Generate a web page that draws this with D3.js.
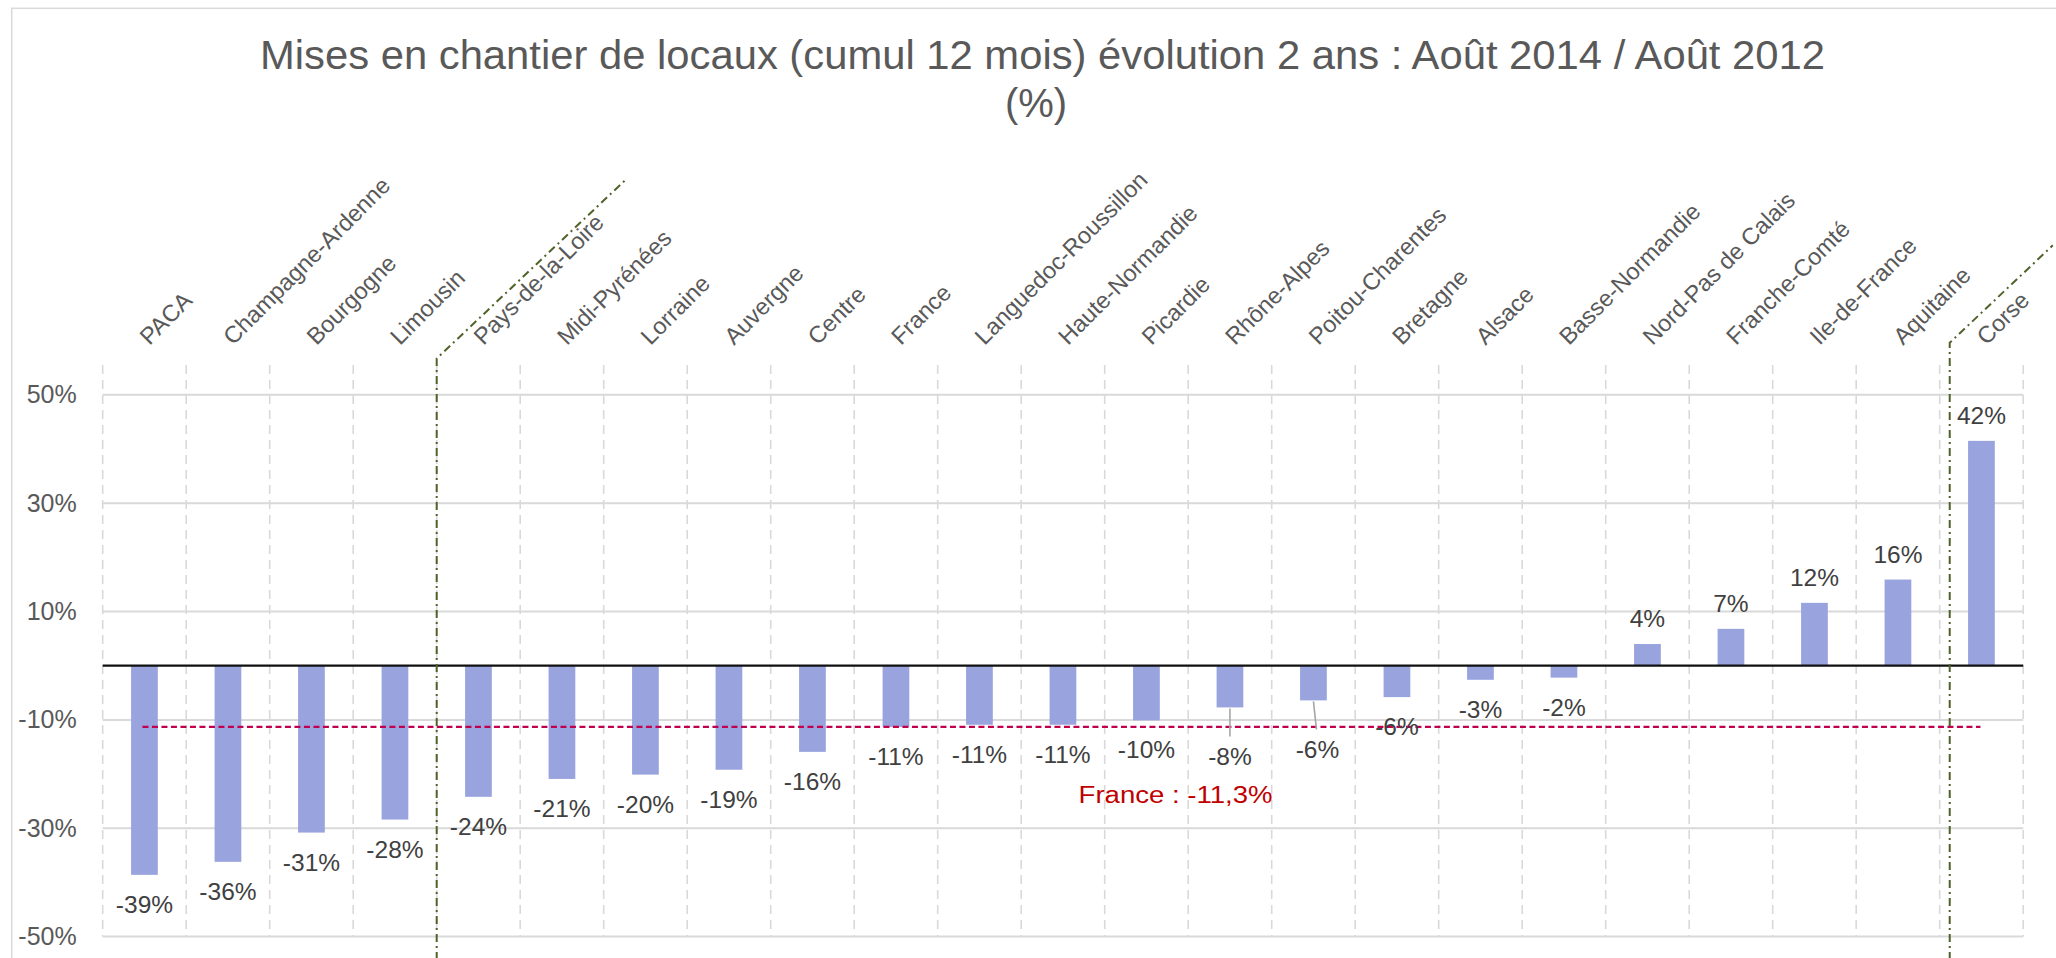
<!DOCTYPE html>
<html>
<head>
<meta charset="utf-8">
<script src="https://cdn.jsdelivr.net/npm/d3@7"></script>
<style>
  html, body { margin: 0; padding: 0; background: #ffffff; }
  svg { display: block; }
  text { font-family: "Liberation Sans", Arial, sans-serif; }
</style>
</head>
<body>
<svg id="chart" width="2056" height="958"></svg>
<script>
// ---------- data ----------
const categories = ["PACA","Champagne-Ardenne","Bourgogne","Limousin","Pays-de-la-Loire","Midi-Pyrénées","Lorraine","Auvergne","Centre","France","Languedoc-Roussillon","Haute-Normandie","Picardie","Rhône-Alpes","Poitou-Charentes","Bretagne","Alsace","Basse-Normandie","Nord-Pas de Calais","Franche-Comté","Ile-de-France","Aquitaine","Corse"];
const values = [-38.6,-36.2,-30.8,-28.4,-24.2,-20.9,-20.1,-19.2,-15.9,-11.3,-10.9,-10.9,-10.1,-7.7,-6.4,-5.8,-2.6,-2.2,4.0,6.8,11.6,15.9,41.5];
const yTicks = [-50,-30,-10,10,30,50];
const franceAverage = -11.3;
const franceLabel = "France : -11,3%";
const leaderLabelCategories = ["Rhône-Alpes","Poitou-Charentes"];
const titleLines = ["Mises en chantier de locaux (cumul 12 mois) évolution 2 ans : Août 2014 / Août 2012", "(%)"];
// separators (dash-dot green): boundary category, corner value, end value
const separatorCategories = ["Pays-de-la-Loire","Corse"];
const separatorCornerValues = [56.7, 59.6];
const separatorEndValues = [89.8, 77.6];

// ---------- layout ----------
const svg = d3.select("#chart");
const plot = { left: 102.7, right: 2023.2, top: 365, bottom: 936.6 };

const x = d3.scaleBand().domain(categories).range([plot.left, plot.right]).paddingInner(0).paddingOuter(0);
const y = d3.scaleLinear().domain([-50, 55.5]).range([plot.bottom, plot.top]);
const bw = x.bandwidth();
const barW = bw * 0.32;

// chart border
svg.append("rect")
  .attr("x", 11.7).attr("y", 8.3).attr("width", 2200).attr("height", 1100)
  .attr("fill", "none").attr("stroke", "#d9d9d9").attr("stroke-width", 1.5);

// title
const title = svg.append("g").attr("fill", "#595959");
title.append("text")
  .attr("x", 1042.5).attr("y", 69.3).attr("text-anchor", "middle")
  .attr("font-size", 40)
  .attr("textLength", 1565).attr("lengthAdjust", "spacingAndGlyphs")
  .text(titleLines[0]);
title.append("text")
  .attr("x", 1036).attr("y", 117).attr("text-anchor", "middle")
  .attr("font-size", 40)
  .text(titleLines[1]);

// horizontal gridlines
svg.append("g").selectAll("line").data(yTicks).join("line")
  .attr("x1", plot.left).attr("x2", plot.right)
  .attr("y1", d => y(d)).attr("y2", d => y(d))
  .attr("stroke", "#d9d9d9").attr("stroke-width", 2);

// vertical dashed gridlines at category boundaries
const boundaries = categories.map(c => x(c)).concat([x(categories[categories.length - 1]) + bw]);
svg.append("g").selectAll("line").data(boundaries).join("line")
  .attr("x1", d => d).attr("x2", d => d)
  .attr("y1", plot.top).attr("y2", plot.bottom)
  .attr("stroke", "#d9d9d9").attr("stroke-width", 1.6)
  .attr("stroke-dasharray", "9,6");

// y axis
const yAxis = svg.append("g")
  .attr("transform", `translate(${plot.left},0)`)
  .call(d3.axisLeft(y).tickValues(yTicks).tickSize(0).tickPadding(26).tickFormat(d => d + "%"));
yAxis.select(".domain").remove();
yAxis.selectAll("text")
  .attr("font-family", "'Liberation Sans', Arial, sans-serif")
  .attr("font-size", 25).attr("fill", "#595959");

// bars
svg.append("g").selectAll("rect").data(categories).join("rect")
  .attr("x", (c) => x(c) + bw / 2 - barW / 2)
  .attr("width", barW)
  .attr("y", (c, i) => Math.min(y(values[i]), y(0)))
  .attr("height", (c, i) => Math.abs(y(values[i]) - y(0)))
  .attr("fill", "#99a3de");

// zero line
svg.append("line")
  .attr("x1", plot.left).attr("x2", plot.right)
  .attr("y1", y(0)).attr("y2", y(0))
  .attr("stroke", "#111111").attr("stroke-width", 2.2);

// France average dashed line
const firstC = categories[0], lastC = categories[categories.length - 1];
svg.append("line")
  .attr("x1", x(firstC) + bw / 2 - 2).attr("x2", x(lastC) + bw / 2 - 1)
  .attr("y1", y(franceAverage)).attr("y2", y(franceAverage))
  .attr("stroke", "#c0004f").attr("stroke-width", 2.4)
  .attr("stroke-dasharray", "6,3.5");

// leader lines
const leaderShift = 20;
leaderLabelCategories.forEach((c, k) => {
  const i = categories.indexOf(c);
  const cx = x(c) + bw / 2;
  svg.append("line")
    .attr("x1", cx).attr("x2", cx + (k === 1 ? 3 : 0))
    .attr("y1", y(values[i]) + 1).attr("y2", y(values[i]) + 29)
    .attr("stroke", "#a6a6a6").attr("stroke-width", 1.6);
});

// data labels
svg.append("g").selectAll("text").data(categories).join("text")
  .attr("x", (c) => x(c) + bw / 2 + (c === "Poitou-Charentes" ? 4 : 0))
  .attr("y", (c, i) => {
    const v = values[i];
    if (v < 0) return y(v) + 29.5 + (leaderLabelCategories.includes(c) ? leaderShift : 0);
    return y(v) - 25.5;
  })
  .attr("dy", "0.35em")
  .attr("text-anchor", "middle")
  .attr("font-size", 24.5).attr("fill", "#404040")
  .text((c, i) => Math.round(values[i]) + "%");

// France annotation
svg.append("text")
  .attr("x", 1078.6).attr("y", 802.7)
  .attr("font-size", 24.7).attr("fill", "#c00000")
  .attr("textLength", 194).attr("lengthAdjust", "spacingAndGlyphs")
  .text(franceLabel);

// green dash-dot separators
separatorCategories.forEach((c, k) => {
  const bx = x(c) + (k === 1 ? bw * 0.12 : 0);
  const cornerY = y(separatorCornerValues[k]);
  const endY = y(separatorEndValues[k]);
  const endX = bx + (cornerY - endY) / 0.946;
  svg.append("path")
    .attr("d", `M${bx},960 L${bx},${cornerY} L${endX},${endY}`)
    .attr("fill", "none").attr("stroke", "#4f6228").attr("stroke-width", 2)
    .attr("stroke-dasharray", "8,4,2,4");
});

// category labels (rotated)
svg.append("g").selectAll("text").data(categories).join("text")
  .attr("transform", c => `translate(${x(c) + bw / 2 + 5},346) rotate(-45)`)
  .attr("text-anchor", "start")
  .attr("font-size", 23.5).attr("fill", "#595959")
  .text(c => c);
</script>
</body>
</html>
